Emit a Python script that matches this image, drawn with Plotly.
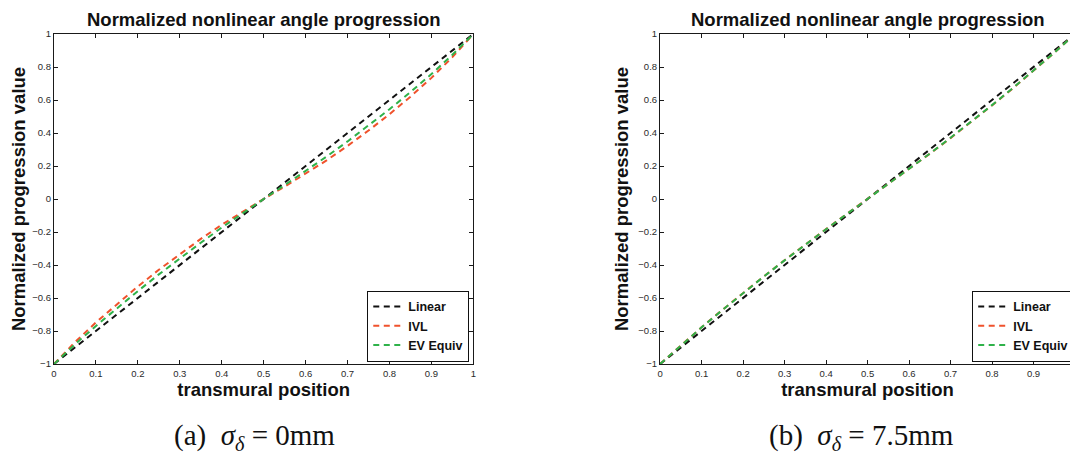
import plotly.graph_objects as go

# ---------------- data ----------------
x_pos = [0, 0.05, 0.1, 0.15, 0.2, 0.25, 0.3, 0.35, 0.4, 0.45, 0.5,
         0.55, 0.6, 0.65, 0.7, 0.75, 0.8, 0.85, 0.9, 0.95, 1]

linear = [-1, -0.9, -0.8, -0.7, -0.6, -0.5, -0.4, -0.3, -0.2, -0.1, 0,
          0.1, 0.2, 0.3, 0.4, 0.5, 0.6, 0.7, 0.8, 0.9, 1]

ivl_a = [-1, -0.868, -0.748, -0.636, -0.53, -0.429, -0.333, -0.242, -0.156, -0.076, 0,
         0.075, 0.152, 0.234, 0.322, 0.415, 0.514, 0.62, 0.734, 0.86, 1]
ev_a = [-1, -0.881, -0.769, -0.662, -0.558, -0.457, -0.359, -0.265, -0.173, -0.085, 0,
        0.084, 0.169, 0.257, 0.349, 0.445, 0.544, 0.648, 0.757, 0.874, 1]

ivl_b = [-1, -0.886, -0.777, -0.672, -0.569, -0.469, -0.371, -0.275, -0.182, -0.09, 0,
         0.09, 0.181, 0.274, 0.369, 0.467, 0.567, 0.67, 0.776, 0.886, 1]
ev_b = [-1, -0.887, -0.778, -0.673, -0.57, -0.47, -0.372, -0.276, -0.183, -0.091, 0,
        0.091, 0.182, 0.275, 0.371, 0.469, 0.569, 0.672, 0.778, 0.887, 1]

series_names = ["Linear", "IVL", "EV Equiv"]

x_tickvals_a = [0, 0.1, 0.2, 0.3, 0.4, 0.5, 0.6, 0.7, 0.8, 0.9, 1]
x_ticktext_a = ["0", "0.1", "0.2", "0.3", "0.4", "0.5", "0.6", "0.7", "0.8", "0.9", "1"]
x_tickvals_b = [0, 0.1, 0.2, 0.3, 0.4, 0.5, 0.6, 0.7, 0.8, 0.9]
x_ticktext_b = ["0", "0.1", "0.2", "0.3", "0.4", "0.5", "0.6", "0.7", "0.8", "0.9"]
y_tickvals = [-1, -0.8, -0.6, -0.4, -0.2, 0, 0.2, 0.4, 0.6, 0.8, 1]
y_ticktext = ["\u22121", "\u22120.8", "\u22120.6", "\u22120.4", "\u22120.2", "0",
              "0.2", "0.4", "0.6", "0.8", "1"]

plot_title = "Normalized nonlinear angle progression"
x_title = "transmural position"
y_title = "Normalized progression value"
caption_a = "(a)&nbsp;&nbsp;<i>σ</i><sub><i>δ</i></sub> = 0mm"
caption_b = "(b)&nbsp;&nbsp;<i>σ</i><sub><i>δ</i></sub> = 7.5mm"

# ---------------- styling ----------------
# the page body has an 8px default margin, so the figure is 8px smaller
OFF = 8
W, H = 1078 - OFF, 455 - OFF
ML, MR, MT = 53.5 - OFF, 0, 34 - OFF
MB = H - (364.3 - OFF)
PW = W - ML - MR
PH = H - MT - MB
colors = ["#111111", "#f0522c", "#2fb24a"]
SANS = "Liberation Sans, Arial, Helvetica, sans-serif"
SERIF = "Liberation Serif, Times New Roman, serif"
DASH = "6px,4.5px"


def px_x(p):
    return (p - OFF - ML) / PW


def px_y(p):
    return (H - MB - (p - OFF)) / PH


fig = go.Figure()

panels = [
    ("x", "y", "legend", [linear, ivl_a, ev_a]),
    ("x2", "y2", "legend2", [linear, ivl_b, ev_b]),
]
for xa, ya, lg, ser in panels:
    for name, vals, col in zip(series_names, ser, colors):
        fig.add_trace(go.Scatter(
            x=x_pos, y=vals, mode="lines", name=name,
            line=dict(color=col, width=2, dash=DASH),
            xaxis=xa, yaxis=ya, legend=lg,
        ))

dom_a = [0, px_x(474.3)]
dom_b = [px_x(661.7), 1]

axis_common = dict(
    showline=True, linecolor="#1a1a1a", linewidth=1.3, mirror="ticks",
    ticks="inside", ticklen=4, tickwidth=1, tickcolor="#1a1a1a",
    showgrid=False, zeroline=False,
    tickfont=dict(family=SANS, size=9.5, color="#2a2a2a"),
)
title_font = dict(family=SANS, size=18.5, color="#111111", weight="bold")
legend_common = dict(
    xref="paper", yref="paper", xanchor="right", y=px_y(362), yanchor="bottom",
    bgcolor="white", bordercolor="#111111", borderwidth=1.2,
    font=dict(family=SANS, size=12.5, color="#111111", weight="bold"),
    tracegroupgap=0, itemwidth=30,
)

fig.update_layout(
    width=W, height=H,
    margin=dict(l=ML, r=MR, t=MT, b=MB),
    paper_bgcolor="white", plot_bgcolor="white",
    xaxis=dict(domain=dom_a, range=[0, 1], anchor="y",
               tickvals=x_tickvals_a, ticktext=x_ticktext_a,
               title=dict(text=x_title, font=title_font, standoff=2), **axis_common),
    yaxis=dict(domain=[0, 1], range=[-1, 1], anchor="x",
               tickvals=y_tickvals, ticktext=y_ticktext,
               title=dict(text=y_title, font=title_font, standoff=4), **axis_common),
    xaxis2=dict(domain=dom_b, range=[0, 1], anchor="y2",
                tickvals=x_tickvals_b, ticktext=x_ticktext_b,
                title=dict(text=x_title, font=title_font, standoff=2), **axis_common),
    yaxis2=dict(domain=[0, 1], range=[-1, 1], anchor="x2",
                tickvals=y_tickvals, ticktext=y_ticktext,
                title=dict(text=y_title, font=title_font, standoff=4), **axis_common),
    legend=dict(x=px_x(470), **legend_common),
    legend2=dict(x=px_x(1077), **legend_common),
    showlegend=True,
)

annotations = []
for cx in [(53.5 + 474.3) / 2, (661.7 + 1078) / 2]:
    annotations.append(dict(
        text=plot_title, xref="paper", yref="paper",
        x=px_x(cx), y=px_y(19.5),
        xanchor="center", yanchor="middle", showarrow=False,
        font=title_font,
    ))
for cx, cap in [(255, caption_a), (864, caption_b)]:
    annotations.append(dict(
        text=cap, xref="paper", yref="paper",
        x=px_x(cx), y=px_y(437),
        xanchor="center", yanchor="middle", showarrow=False,
        font=dict(family=SERIF, size=29, color="#111111"),
    ))
fig.update_layout(annotations=annotations)

fig.write_html("out.html")
